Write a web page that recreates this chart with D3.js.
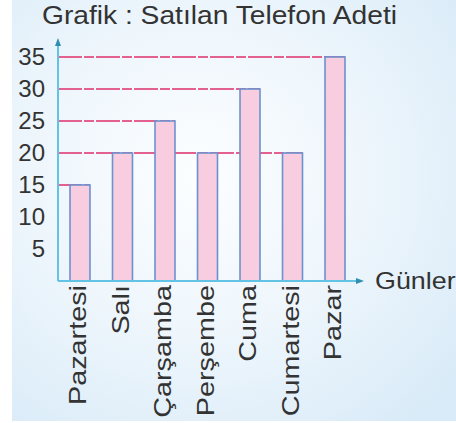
<!DOCTYPE html>
<html>
<head>
<meta charset="utf-8">
<script src="https://cdn.jsdelivr.net/npm/d3@7"></script>
<style>
  body { margin: 0; background: #fff; }
  svg { display: block; font-family: "Liberation Sans", Arial, sans-serif; }
</style>
</head>
<body>
<div id="chart"></div>
<script>
// chart data
const days = ['Pazartesi', 'Salı', 'Çarşamba', 'Perşembe', 'Cuma', 'Cumartesi', 'Pazar'];
const sold = [15, 20, 25, 20, 30, 20, 35];
const yTicks = [5, 10, 15, 20, 25, 30, 35];

const W = 456, H = 423;
const svg = d3.select('#chart').append('svg')
  .attr('width', W)
  .attr('height', H);

// the printed font is a bit wider than Liberation Sans, so stretch text
function widen(sel, k) {
  sel.each(function() {
    const len = this.getComputedTextLength();
    d3.select(this)
      .attr('textLength', len * k)
      .attr('lengthAdjust', 'spacingAndGlyphs');
  });
}

// background gradient
const defs = svg.append('defs');
const grad = defs.append('radialGradient')
  .attr('id', 'bg')
  .attr('cx', '0.42').attr('cy', '0.42').attr('r', '0.75');
grad.append('stop').attr('offset', '0').attr('stop-color', '#fcfeff');
grad.append('stop').attr('offset', '0.5').attr('stop-color', '#eef6fc');
grad.append('stop').attr('offset', '1').attr('stop-color', '#d9ebf8');

svg.append('rect')
  .attr('x', 12).attr('y', 0)
  .attr('width', W - 12).attr('height', H - 2)
  .attr('fill', 'url(#bg)');

// scales
const x0 = 58, xEnd = 362, y0 = 281;
const x = d3.scaleBand()
  .domain(days)
  .range([57.25, 357.75])
  .paddingInner(0.53)
  .paddingOuter(0.3);
const y = d3.scaleLinear()
  .domain([0, 35])
  .range([y0, 57]);

// title
svg.append('text')
  .attr('x', 42).attr('y', 24)
  .attr('font-size', 25)
  .attr('fill', '#333')
  .text('Grafik : Satılan Telefon Adeti')
  .attr('textLength', 355)
  .attr('lengthAdjust', 'spacingAndGlyphs');

// dashed guide lines, from the axis to the last bar with that value
const guides = Array.from(new Set(sold)).map(v => {
  const last = days[sold.lastIndexOf(v)];
  return { v, x2: x(last) + x.bandwidth() };
});
svg.append('g')
  .selectAll('line')
  .data(guides)
  .join('line')
  .attr('x1', x0).attr('x2', d => d.x2)
  .attr('y1', d => y(d.v)).attr('y2', d => y(d.v))
  .attr('stroke', '#e4608e')
  .attr('stroke-width', 2)
  .attr('stroke-dasharray', '24,2,10,2');

// bars
svg.append('g')
  .selectAll('rect')
  .data(days)
  .join('rect')
  .attr('x', d => x(d))
  .attr('y', (d, i) => y(sold[i]))
  .attr('width', x.bandwidth())
  .attr('height', (d, i) => y0 - y(sold[i]))
  .attr('fill', '#f8cde0')
  .attr('stroke', '#6b92cf')
  .attr('stroke-width', 1.6);

// y axis
const yAxis = d3.axisLeft(y).tickValues(yTicks).tickSize(0).tickPadding(13);
const gy = svg.append('g')
  .attr('transform', `translate(${x0},0)`)
  .call(yAxis);
gy.select('.domain').remove();
gy.selectAll('text')
  .attr('font-size', 24)
  .attr('fill', '#333')
  .attr('font-family', '"Liberation Sans", Arial, sans-serif');

// x axis labels
const xAxis = d3.axisBottom(x).tickSize(0).tickPadding(0);
const gx = svg.append('g')
  .attr('transform', `translate(0,${y0})`)
  .call(xAxis);
gx.select('.domain').remove();
gx.selectAll('text')
  .attr('font-size', 24)
  .attr('fill', '#333')
  .attr('font-family', '"Liberation Sans", Arial, sans-serif')
  .attr('transform', 'rotate(-90)')
  .attr('text-anchor', 'end')
  .attr('x', -4)
  .attr('y', -2)
  .attr('dy', '0.35em')
  .call(widen, 1.2);

// axis lines with arrows
svg.append('line')
  .attr('x1', x0).attr('x2', x0)
  .attr('y1', y0).attr('y2', 43)
  .attr('stroke', '#62c3e4').attr('stroke-width', 2);
svg.append('path')
  .attr('d', `M${x0 - 3},46 L${x0},38 L${x0 + 3},46 Z`)
  .attr('fill', '#2f8fb0');
svg.append('line')
  .attr('x1', x0).attr('x2', xEnd - 3)
  .attr('y1', y0).attr('y2', y0)
  .attr('stroke', '#62c3e4').attr('stroke-width', 2);
svg.append('path')
  .attr('d', `M${xEnd - 6},${y0 - 3} L${xEnd + 2},${y0} L${xEnd - 6},${y0 + 3} Z`)
  .attr('fill', '#2f8fb0');

svg.append('text')
  .attr('x', 375).attr('y', y0 + 8)
  .attr('font-size', 24)
  .attr('fill', '#333')
  .text('Günler')
  .call(widen, 1.12);
</script>
</body>
</html>
